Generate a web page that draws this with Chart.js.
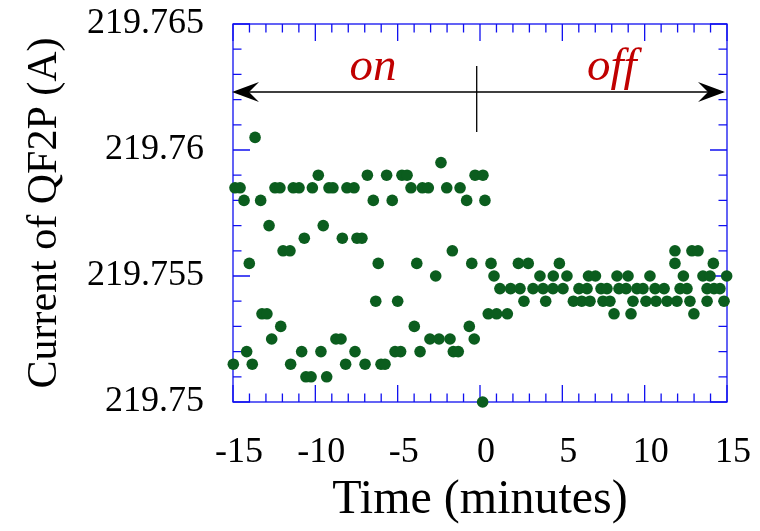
<!DOCTYPE html>
<html>
<head>
<meta charset="utf-8">
<script src="https://cdn.jsdelivr.net/npm/chart.js@4.4.1/dist/chart.umd.min.js"></script>
<style>
  html, body { margin: 0; padding: 0; background: #fff; }
  #wrap { width: 760px; height: 531px; }
</style>
</head>
<body>
<div id="wrap"><canvas id="myChart" width="760" height="531"></canvas></div>
<script>
// magnet current, minutes relative to switch (on -> off)
const onTime = [-14.98, -14.88, -14.57, -14.33, -14.17, -14.01, -13.83, -13.66, -13.32, -13.24,
  -12.94, -12.81, -12.65, -12.45, -12.15, -12.10, -11.96, -11.54, -11.50, -11.34,
  -10.99, -10.83, -10.67, -10.57, -10.26, -10.18, -9.82, -9.66, -9.52, -9.31,
  -9.17, -8.93, -8.75, -8.44, -8.36, -8.16, -8.08, -7.65, -7.59, -7.47,
  -7.17, -6.98, -6.84, -6.48, -6.33, -6.18, -6.01, -5.77, -5.67, -5.33,
  -5.16, -5.00, -4.82, -4.74, -4.43, -4.19, -3.99, -3.84, -3.64, -3.50,
  -3.14, -3.04, -2.69, -2.49, -2.37, -2.02, -1.82, -1.68, -1.62, -1.32,
  -1.21, -0.81, -0.65, -0.50, -0.35, -0.30, 0.18, 0.16, 0.30];
const onCurrent = [219.7515, 219.7585, 219.7585, 219.758, 219.752, 219.7555, 219.7515, 219.7605, 219.758, 219.7535,
  219.7535, 219.757, 219.7525, 219.7585, 219.7585, 219.753, 219.756, 219.756, 219.7515, 219.7585,
  219.7585, 219.752, 219.7565, 219.751, 219.751, 219.7585, 219.759, 219.752, 219.757, 219.751,
  219.7585, 219.7585, 219.7525, 219.7525, 219.7565, 219.7515, 219.7585, 219.7585, 219.752, 219.7565,
  219.7565, 219.7515, 219.759, 219.758, 219.754, 219.7555, 219.7515, 219.7515, 219.759, 219.758,
  219.752, 219.754, 219.752, 219.759, 219.759, 219.7585, 219.753, 219.7555, 219.752, 219.7585,
  219.7585, 219.7525, 219.755, 219.7525, 219.7595, 219.7585, 219.7525, 219.756, 219.752, 219.752,
  219.7585, 219.758, 219.753, 219.7555, 219.7525, 219.759, 219.759, 219.75, 219.758];

const offTime = [11.84, 12.87, 13.24,
  0.67, 2.33, 2.93, 4.82, 11.84, 14.17,
  0.85, 3.64, 4.45, 5.28, 6.59, 7.01, 8.32, 8.99, 10.32, 12.35, 13.54, 13.97, 14.98,
  1.21, 1.86, 2.43, 3.22, 3.83, 4.43, 5.04, 6.01, 6.50, 7.35, 7.71, 8.44, 8.87, 9.53, 9.90,
  10.63, 11.18, 12.15, 12.57, 13.79, 14.21, 14.57,
  2.67, 3.99, 5.67, 6.18, 6.68, 7.47, 7.89, 9.29, 10.08, 10.69, 11.36, 11.96, 12.75, 13.79, 14.82,
  0.50, 1.01, 1.66, 8.14, 9.17, 12.99];
const offCurrent = [219.756, 219.756, 219.756,
  219.7555, 219.7555, 219.7555, 219.7555, 219.7555, 219.7555,
  219.755, 219.755, 219.755, 219.755, 219.755, 219.755, 219.755, 219.755, 219.755, 219.755, 219.755, 219.755, 219.755,
  219.7545, 219.7545, 219.7545, 219.7545, 219.7545, 219.7545, 219.7545, 219.7545, 219.7545, 219.7545, 219.7545, 219.7545, 219.7545, 219.7545, 219.7545,
  219.7545, 219.7545, 219.7545, 219.7545, 219.7545, 219.7545, 219.7545,
  219.754, 219.754, 219.754, 219.754, 219.754, 219.754, 219.754, 219.754, 219.754, 219.754, 219.754, 219.754, 219.754, 219.754, 219.754,
  219.7535, 219.7535, 219.7535, 219.7535, 219.7535, 219.7535];

const xRange = [-15, 15];
const yRange = [219.75, 219.765];
const phaseLabels = ['on', 'off'];
const phaseLabelAt = [-6.5, 8.0];   // minutes
const switchAt = -0.2;              // minutes, little vertical mark

const dotColor = '#0b5d1e';
const axisColor = '#1010f0';

function pairs(xs, ys) {
    return xs.map(function (x, i) { return { x: x, y: ys[i] }; });
}

function isMajorX(v) { return Math.abs(v / 5 - Math.round(v / 5)) < 1e-6; }
function isMajorY(v) { return Math.abs(v * 200 - Math.round(v * 200)) < 1e-6; }

// frame + inside ticks on all four sides
const framePlugin = {
    id: 'frame',
    beforeDatasetsDraw(chart) {
        const ctx = chart.ctx;
        const a = chart.chartArea;
        const xs = chart.scales.x, ys = chart.scales.y;
        ctx.save();
        ctx.strokeStyle = axisColor;
        ctx.lineWidth = 1.3;
        ctx.strokeRect(a.left, a.top, a.right - a.left, a.bottom - a.top);
        ctx.beginPath();
        xs.ticks.forEach(function (t) {
            const px = xs.getPixelForValue(t.value);
            const len = isMajorX(t.value) ? 17 : 8.5;
            ctx.moveTo(px, a.bottom); ctx.lineTo(px, a.bottom - len);
            ctx.moveTo(px, a.top); ctx.lineTo(px, a.top + len);
        });
        ys.ticks.forEach(function (t) {
            const py = ys.getPixelForValue(t.value);
            const len = isMajorY(t.value) ? 17 : 8.5;
            ctx.moveTo(a.left, py); ctx.lineTo(a.left + len, py);
            ctx.moveTo(a.right, py); ctx.lineTo(a.right - len, py);
        });
        ctx.stroke();

        // double arrow + switch mark
        const ay = a.top + 68;
        ctx.strokeStyle = '#000';
        ctx.fillStyle = '#000';
        ctx.lineWidth = 1.3;
        ctx.beginPath();
        ctx.moveTo(a.left + 4, ay); ctx.lineTo(a.right - 4, ay);
        const sx = xs.getPixelForValue(switchAt);
        ctx.moveTo(sx, a.top + 42); ctx.lineTo(sx, a.top + 108);
        ctx.stroke();
        function head(tipX, dir) {
            ctx.beginPath();
            ctx.moveTo(tipX, ay);
            ctx.lineTo(tipX + dir * 27, ay - 10);
            ctx.lineTo(tipX + dir * 17, ay);
            ctx.lineTo(tipX + dir * 27, ay + 10);
            ctx.closePath();
            ctx.fill();
        }
        head(a.left - 1, 1);
        head(a.right - 2, -1);

        ctx.fillStyle = '#c00000';
        ctx.font = 'italic 47px "Liberation Serif", "Times New Roman", serif';
        ctx.textAlign = 'center';
        ctx.textBaseline = 'alphabetic';
        phaseLabels.forEach(function (s, i) {
            ctx.fillText(s, xs.getPixelForValue(phaseLabelAt[i]), a.top + 56);
        });
        ctx.restore();
    }
};

Chart.defaults.font.family = '"Liberation Serif", "Times New Roman", serif';
Chart.defaults.color = '#000';

const ctx = document.getElementById('myChart').getContext('2d');
const myChart = new Chart(ctx, {
    type: 'scatter',
    data: {
        datasets: [{
            label: 'on',
            data: pairs(onTime, onCurrent),
            backgroundColor: dotColor,
            borderColor: dotColor,
            borderWidth: 0,
            pointRadius: 5.8,
            clip: false
        }, {
            label: 'off',
            data: pairs(offTime, offCurrent),
            backgroundColor: dotColor,
            borderColor: dotColor,
            borderWidth: 0,
            pointRadius: 5.8,
            clip: false
        }]
    },
    options: {
        responsive: false,
        animation: false,
        devicePixelRatio: 1,
        layout: { padding: { top: 24, right: 33, bottom: 0, left: 0 } },
        plugins: {
            legend: { display: false },
            tooltip: { enabled: false }
        },
        scales: {
            x: {
                type: 'linear',
                min: xRange[0],
                max: xRange[1],
                grid: { display: false },
                border: { display: false },
                ticks: {
                    stepSize: 1,
                    autoSkip: false,
                    maxRotation: 0,
                    padding: 21,
                    labelOffset: 6,
                    font: { size: 36 },
                    callback: function (v) { return isMajorX(v) ? String(Math.round(v)) : ''; }
                },
                title: {
                    display: true,
                    text: 'Time (minutes)',
                    font: { size: 48 },
                    padding: { top: 0, bottom: 2 }
                },
                afterFit: function (s) {
                    s.height = 129;
                    s.paddingLeft = 0;
                    s.paddingRight = 0;
                }
            },
            y: {
                type: 'linear',
                min: yRange[0],
                max: yRange[1],
                grid: { display: false },
                border: { display: false },
                ticks: {
                    stepSize: 0.001,
                    autoSkip: false,
                    padding: 21,
                    font: { size: 36 },
                    callback: function (v) { return isMajorY(v) ? String(Math.round(v * 1000) / 1000) : ''; }
                },
                title: {
                    display: true,
                    text: 'Current of QF2P (A)',
                    font: { size: 42 },
                    padding: { top: 20, bottom: 0 }
                },
                afterFit: function (s) {
                    s.width = 233;
                    s.paddingTop = 0;
                    s.paddingBottom = 0;
                }
            }
        }
    },
    plugins: [framePlugin]
});
</script>
</body>
</html>
